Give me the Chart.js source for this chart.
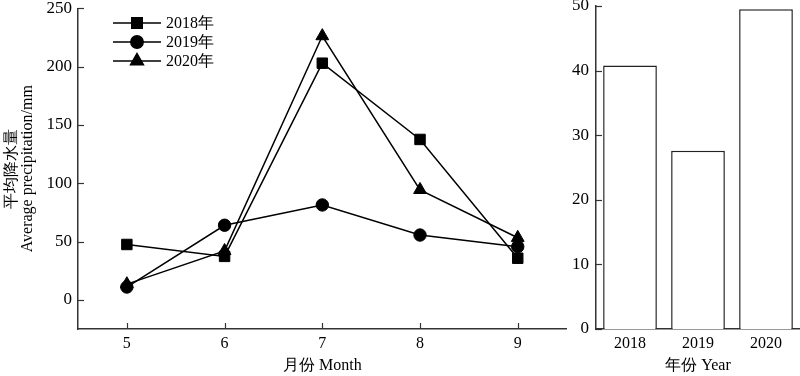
<!DOCTYPE html>
<html>
<head>
<meta charset="utf-8">
<script src="https://cdn.jsdelivr.net/npm/chart.js@4/dist/chart.umd.min.js"></script>
<style>
	body { margin: 0; background: #fff; }
	#wrap { position: relative; width: 800px; height: 376px; }
	canvas { position: absolute; top: 0; }
</style>
</head>
<body>
<div id="wrap">
	<canvas id="monthly" width="575" height="376" style="left:0"></canvas>
	<canvas id="annual" width="260" height="376" style="left:540px"></canvas>
</div>
<script>
const months = ['5', '6', '7', '8', '9'];
const rain2018 = [47.5, 37.3, 203, 137.6, 35.7];
const rain2019 = [11, 64, 81.4, 55.6, 45.6];
const rain2020 = [13.5, 42, 226.3, 94.4, 53.3];
const monthTicks = [0, 50, 100, 150, 200, 250];

const years = ['2018', '2019', '2020'];
const annualRain = [40.8, 27.6, 49.5];
const annualTicks = [0, 10, 20, 30, 40, 50];

const FONT = "'Liberation Serif', 'Times New Roman', serif";
const yFont = { family: FONT, size: 17 };
const xFont = { family: FONT, size: 16 };
const titleFont = { family: FONT, size: 16 };
const AXIS = '#333';

// ticks drawn inward, like the original figure
const innerTicks = {
	id: 'innerTicks',
	afterDraw(chart, args, opts) {
		const ctx = chart.ctx;
		const a = chart.chartArea;
		ctx.save();
		ctx.strokeStyle = AXIS;
		ctx.lineWidth = 1.2;
		const y = chart.scales.y;
		y.ticks.forEach((t, i) => {
			const p = Math.round(y.getPixelForTick(i)) + 0.5;
			ctx.beginPath();
			ctx.moveTo(a.left, p);
			ctx.lineTo(a.left + 6, p);
			ctx.stroke();
		});
		if (opts.xTicks) {
			const x = chart.scales.x;
			x.ticks.forEach((t, i) => {
				const p = Math.round(x.getPixelForTick(i)) + 0.5;
				ctx.beginPath();
				ctx.moveTo(p, a.bottom);
				ctx.lineTo(p, a.bottom - 6);
				ctx.stroke();
			});
		}
		ctx.restore();
	}
};

// legend: short line with the marker in the middle, as in the figure
const lineLegend = {
	id: 'lineLegend',
	afterDraw(chart) {
		const ctx = chart.ctx;
		ctx.save();
		chart.data.datasets.forEach((ds, i) => {
			const y = 23 + i * 19;
			ctx.strokeStyle = '#000';
			ctx.fillStyle = '#000';
			ctx.lineWidth = 1.5;
			ctx.beginPath();
			ctx.moveTo(113, y);
			ctx.lineTo(161, y);
			ctx.stroke();
			Chart.helpers.drawPoint(ctx, {
				pointStyle: ds.pointStyle,
				radius: ds.pointRadius,
				rotation: 0,
				borderWidth: 1
			}, 137, y);
			ctx.font = '16px ' + FONT;
			ctx.textBaseline = 'middle';
			ctx.textAlign = 'left';
			ctx.fillText(ds.label, 166, y + 1);
		});
		ctx.restore();
	}
};

const lineSet = (label, data, style, r) => ({
	label: label,
	data: data,
	borderColor: '#000',
	backgroundColor: '#000',
	borderWidth: 1.5,
	pointStyle: style,
	pointRadius: r,
	pointBorderWidth: 1,
	pointBackgroundColor: '#000',
	pointBorderColor: '#000',
	tension: 0,
});

new Chart(document.getElementById('monthly'), {
	type: 'line',
	data: {
		labels: months,
		datasets: [
			lineSet('2018年', rain2018, 'rect', 7.4),
			lineSet('2019年', rain2019, 'circle', 6.2),
			lineSet('2020年', rain2020, 'triangle', 7.4),
		],
	},
	options: {
		responsive: false,
		animation: false,
		devicePixelRatio: 1,
		layout: { padding: { top: 6, right: 7, left: 0, bottom: 0 } },
		plugins: { legend: { display: false }, tooltip: { enabled: false }, innerTicks: { xTicks: true } },
		scales: {
			x: {
				offset: true,
				grid: { display: false, drawTicks: false },
				border: { color: AXIS, width: 1.5 },
				ticks: { color: '#000', font: xFont, padding: 5 },
				title: { display: true, text: '月份 Month', color: '#000', font: titleFont, padding: { top: 0, bottom: 1 } },
				afterFit(s) { s.height = 47; s.paddingLeft = 0; s.paddingRight = 0; },
			},
			y: {
				min: -25,
				max: 250,
				grid: { display: false, drawTicks: false },
				border: { color: AXIS, width: 1.5 },
				ticks: { color: '#000', font: yFont, padding: 6 },
				afterBuildTicks(s) { s.ticks = monthTicks.map(v => ({ value: v })); },
				title: {
					display: true,
					text: ['平均降水量', 'Average precipitation/mm'],
					color: '#000',
					font: { family: FONT, size: 16, lineHeight: 1 },
					padding: { top: 4, bottom: 0 },
				},
				afterFit(s) { s.width = 78; s.paddingTop = 0; s.paddingBottom = 0; },
			},
		},
	},
	plugins: [innerTicks, lineLegend],
});

new Chart(document.getElementById('annual'), {
	type: 'bar',
	data: {
		labels: years,
		datasets: [{
			data: annualRain,
			backgroundColor: '#fff',
			borderColor: '#222',
			borderWidth: 1.5,
			categoryPercentage: 1,
			barPercentage: 0.79,
		}],
	},
	options: {
		responsive: false,
		animation: false,
		devicePixelRatio: 1,
		layout: { padding: { top: 6, right: 0, left: 0, bottom: 0 } },
		plugins: { legend: { display: false }, tooltip: { enabled: false }, innerTicks: { xTicks: false } },
		scales: {
			x: {
				grid: { display: false, drawTicks: false },
				border: { color: AXIS, width: 1.5 },
				ticks: { color: '#000', font: xFont, padding: 5 },
				title: { display: true, text: '年份 Year', color: '#000', font: titleFont, padding: { top: 0, bottom: 1 } },
				afterFit(s) { s.height = 47; s.paddingLeft = 0; s.paddingRight = 0; },
			},
			y: {
				min: 0,
				max: 50,
				grid: { display: false, drawTicks: false },
				border: { color: AXIS, width: 1.5 },
				ticks: { color: '#000', font: yFont, padding: 7 },
				afterBuildTicks(s) { s.ticks = annualTicks.map(v => ({ value: v })); },
				afterFit(s) { s.width = 56; s.paddingTop = 0; s.paddingBottom = 0; },
			},
		},
	},
	plugins: [innerTicks],
});
</script>
</body>
</html>
